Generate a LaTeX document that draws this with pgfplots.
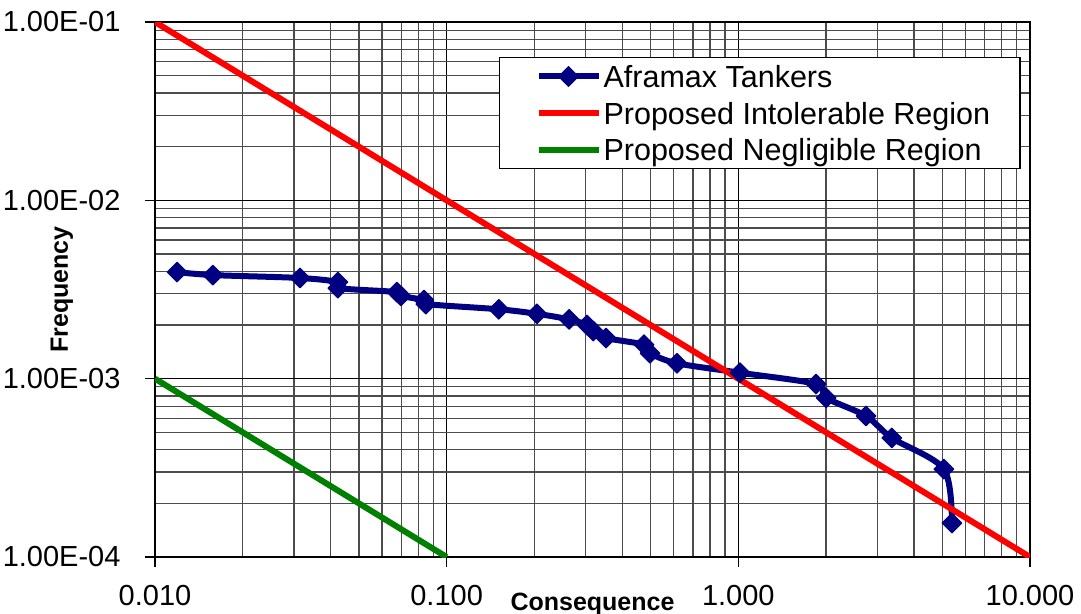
\documentclass[border=0pt]{standalone}
\usepackage{pgfplots}
\pgfplotsset{compat=1.18}
\usepackage{fontspec}
\setmainfont{Liberation Sans}
\definecolor{navyline}{RGB}{0,0,128}
\definecolor{redline}{RGB}{255,0,0}
\definecolor{greenline}{RGB}{0,128,0}

\begin{document}
\begin{tikzpicture}
\begin{axis}[
    at={(0,0)}, anchor=south west,
    scale only axis,
    width=875bp, height=535bp,
    xmode=log, ymode=log,
    xmin=0.01, xmax=10, ymin=1e-4, ymax=1e-1,
    xtick={0.01,0.1,1,10},
    xticklabels={0.010,0.100,1.000,10.000},
    ytick={1e-4,1e-3,1e-2,1e-1},
    yticklabels={1.00E-04,1.00E-03,1.00E-02,1.00E-01},
    minor xtick={0.02,0.03,0.04,0.05,0.06,0.07,0.08,0.09,
                 0.2,0.3,0.4,0.5,0.6,0.7,0.8,0.9,
                 2,3,4,5,6,7,8,9},
    minor ytick={2e-4,3e-4,4e-4,5e-4,6e-4,7e-4,8e-4,9e-4,
                 2e-3,3e-3,4e-3,5e-3,6e-3,7e-3,8e-3,9e-3,
                 2e-2,3e-2,4e-2,5e-2,6e-2,7e-2,8e-2,9e-2},
    tick label style={font=\fontsize{29bp}{34bp}\selectfont},
    xticklabel style={yshift=-15bp},
    yticklabel style={xshift=-21bp},
    xtick pos=bottom, ytick pos=left,
    tick align=outside,
    major tick length=10bp,
    minor tick length=0pt,
    tick style={black, line width=1.2bp},
    grid=both,
    major grid style={black, line width=1.3bp},
    minor grid style={black!70, line width=1.3bp},
    axis line style={black, line width=1.3bp},
    xlabel={Consequence},
    ylabel={Frequency},
    xlabel style={font=\bfseries\fontsize{25bp}{30bp}\selectfont,
        at={(axis description cs:0.5,0)}, anchor=base, yshift=-53bp},
    ylabel style={font=\bfseries\fontsize{25bp}{30bp}\selectfont,
        at={(axis description cs:-0.1063,0.5)}, anchor=center},
    legend cell align=left,
    legend style={at={(axis description cs:0.393,0.9346)}, anchor=north west,
        draw=black, line width=1.4bp, fill=white,
        inner xsep=28bp, inner ysep=0.5bp,
        font=\fontsize{30.5bp}{36bp}\selectfont,
        nodes={inner xsep=2bp, inner ysep=3.3bp, text height=26bp, text depth=4bp}},
    legend image code/.code={
        \path (0bp,0bp);
        \draw[mark repeat=2, mark phase=2, #1] plot coordinates {(8bp,0bp) (38bp,0bp) (68bp,0bp)};
    },
]
% Aframax Tankers F-N curve
\addplot[navyline, line width=6bp, smooth, line join=round,
    mark=square*, mark size=7bp,
    mark options={rotate=45, solid, fill=navyline, line width=1bp}]
coordinates {
    (0.0119, 0.00396)
    (0.0158, 0.00381)
    (0.0314, 0.00367)
    (0.0424, 0.00348)
    (0.0424, 0.00322)
    (0.0675, 0.00306)
    (0.0697, 0.00291)
    (0.0836, 0.00276)
    (0.0849, 0.00262)
    (0.151, 0.00245)
    (0.204, 0.00231)
    (0.263, 0.00215)
    (0.303, 0.00200)
    (0.318, 0.00185)
    (0.352, 0.00169)
    (0.475, 0.00155)
    (0.498, 0.00139)
    (0.616, 0.00122)
    (1.013, 0.00108)
    (1.846, 0.000933)
    (2.00, 0.000780)
    (2.74, 0.000618)
    (3.36, 0.000465)
    (5.07, 0.000311)
    (5.40, 0.000155)
};
\addlegendentry{Aframax Tankers}
\addplot[redline, line width=6bp] coordinates {(0.01, 0.1) (10, 0.0001)};
\addlegendentry{Proposed Intolerable Region}
\addplot[greenline, line width=6bp] coordinates {(0.01, 0.001) (0.1, 0.0001)};
\addlegendentry{Proposed Negligible Region}
\end{axis}
\pgfresetboundingbox
\useasboundingbox (-155bp,-57bp) rectangle (926bp,557bp);
\end{tikzpicture}
\end{document}
